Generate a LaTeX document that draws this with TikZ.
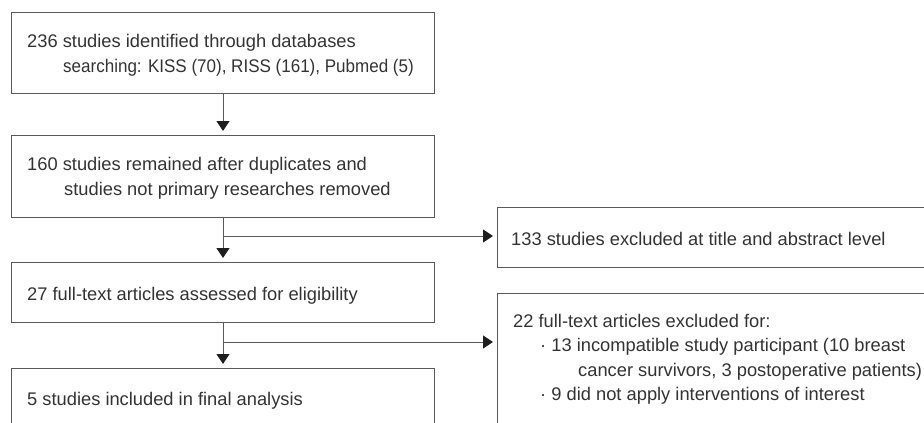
\documentclass[tikz,border=0pt]{standalone}
\usepackage{fontspec}
\setmainfont{Liberation Sans}
\usetikzlibrary{arrows.meta}
\definecolor{linegray}{HTML}{5A5A5A}
\definecolor{textgray}{HTML}{333333}
\definecolor{headgray}{HTML}{1E1E1E}
\begin{document}
\begin{tikzpicture}[x=1pt,y=-1pt,
  box/.style={draw=linegray, line width=1pt, anchor=north west, inner sep=0pt, minimum width=#1},
  box/.default=423pt,
  txt/.style={anchor=base west, inner sep=0pt, text=textgray, font=\fontsize{18.3}{25}\selectfont},
  flow/.style={draw=linegray, line width=1pt, -{Triangle[length=10pt,width=13pt,fill=headgray,color=headgray]}, shorten >=4pt}
]
\useasboundingbox (0,0) rectangle (924,423);
% left column boxes
\node[box, minimum height=81pt] (b1) at (11,12) {};
\node[box, minimum height=82pt] (b2) at (11,135) {};
\node[box, minimum height=60pt] (b3) at (11,262) {};
\node[box, minimum height=60pt] (b4) at (11,368) {};
% right boxes
\node[box=440pt, minimum height=60pt] (b5) at (497,207) {};
\node[box=440pt, minimum height=140pt] (b6) at (497,293) {};
% texts
\node[txt] (t1a) at (27,47) {236 studies identified through databases};
\node[txt] (t1b) at (63,72) {\scalebox{0.93}[1]{searching: KISS (70), RISS (161), Pubmed (5)}};
\node[txt] (t2a) at (27,170) {160 studies remained after duplicates and};
\node[txt] (t2b) at (64,195) {studies not primary researches removed};
\node[txt] (t3) at (27,300) {27 full-text articles assessed for eligibility};
\node[txt] (t4) at (27,405) {5 studies included in final analysis};
\node[txt] (t5) at (511,245) {133 studies excluded at title and abstract level};
\node[txt] (t6a) at (513,327) {22 full-text articles excluded for:};
\node[txt] (t6b) at (540,351.5) {· 13 incompatible study participant (10 breast};
\node[txt] (t6c) at (578,376) {cancer survivors, 3 postoperative patients)};
\node[txt] (t6d) at (540,400.5) {· 9 did not apply interventions of interest};
% connectors
\coordinate (j1) at (223,236);
\coordinate (j2) at (223,342);
\draw[flow] (b1.south) -- (b2.north);
\draw[flow] (b2.south) -- (b3.north);
\draw[flow] (b3.south) -- (b4.north);
\draw[flow] (j1) -- (j1 -| b5.west);
\draw[flow] (j2) -- (j2 -| b6.west);
\end{tikzpicture}
\end{document}
